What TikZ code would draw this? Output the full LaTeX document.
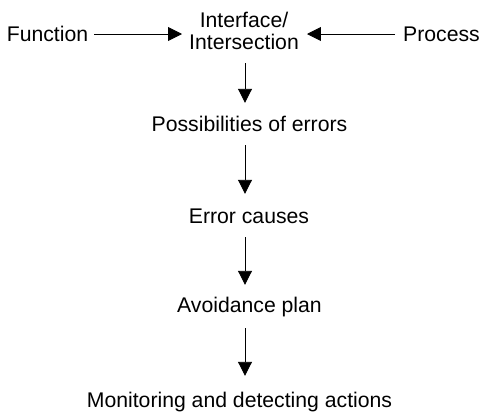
\documentclass[tikz,border=0pt]{standalone}
\usepackage{fontspec}
\setmainfont{Liberation Sans}
\usetikzlibrary{arrows.meta}
\begin{document}
\begin{tikzpicture}[x=1pt,y=-1pt,
  lbl/.style={inner sep=0pt, font=\fontsize{21.2pt}{21.8pt}\selectfont,
              text height=15pt, text depth=0pt, anchor=base},
  arr/.style={draw=black, line width=0.9pt,
              -{Triangle[length=14pt,width=14pt]}}]
  \useasboundingbox (0,0) rectangle (482,413);
  % labels, placed by their baselines
  \node[lbl] (fn)   at (47.5,41.5) {Function};
  \node[lbl] (pr)   at (441.5,41.5) {Process};
  \node[inner sep=0pt, font=\fontsize{21.2pt}{21.8pt}\selectfont,
        align=center, anchor=south] (iface) at (244,50) {Interface/\\Intersection};
  \node[lbl] (poss) at (249.5,131) {Possibilities of errors};
  \node[lbl] (err)  at (249,223) {Error causes};
  \node[lbl] (avd)  at (249.5,312) {Avoidance plan};
  \node[lbl] (mon)  at (239.5,407) {Monitoring and detecting actions};
  % column of the vertical arrows
  \coordinate (col) at (245,0);
  % horizontal feeds into the interface
  \draw[arr, shorten <=6pt, shorten >=7pt] (fn.east) -- (fn.east -| iface.west);
  \draw[arr, shorten <=8pt, shorten >=8pt] (pr.west) -- (pr.west -| iface.east);
  % vertical chain
  \draw[arr, shorten <=13pt, shorten >=13pt] (iface.south -| col) -- (poss.north -| col);
  \draw[arr, shorten <=14pt, shorten >=14pt] (poss.south -| col) -- (err.north -| col);
  \draw[arr, shorten <=14pt, shorten >=12pt] (err.south -| col) -- (avd.north -| col);
  \draw[arr, shorten <=16pt, shorten >=16pt] (avd.south -| col) -- (mon.north -| col);
\end{tikzpicture}
\end{document}
